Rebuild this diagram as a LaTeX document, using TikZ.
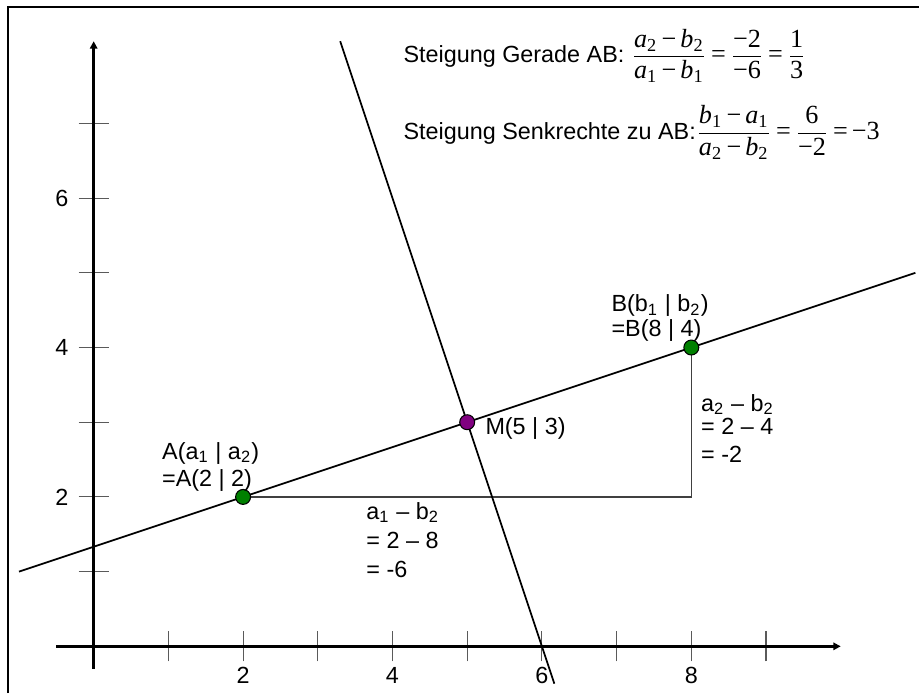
\documentclass[tikz,border=0pt]{standalone}
\usepackage{fontspec}
\usepackage{amsmath}
\setmainfont{Liberation Sans}
\newfontfamily\tnr[Scale=1.12]{Liberation Serif}
\usetikzlibrary{arrows.meta}
\definecolor{ptgreen}{RGB}{0,128,0}
\definecolor{ptpurple}{RGB}{128,0,128}
\definecolor{tickgray}{RGB}{90,90,90}
\newcommand{\mv}[1]{\text{\tnr\itshape #1}}
\newcommand{\mn}[1]{\text{\tnr #1}}
\newcommand{\meq}{\mathrel{\text{\tnr =}}}
\newcommand{\mmin}{\mathbin{\text{\tnr −}}}
\newcommand{\fracspacing}{\thickmuskip=3mu\medmuskip=3mu}
\tikzset{
  axisline/.style={line width=0.9pt, -{Triangle[length=2.8pt,width=2.8pt]}},
  tickline/.style={line width=0.4pt, tickgray},
  mainline/.style={line width=0.65pt, black},
  helpline/.style={line width=0.45pt, black!75},
  ptnode/.style={circle, draw=black, line width=0.4pt, minimum size=0.2cm, inner sep=0pt},
  lbl/.style={inner sep=0pt, anchor=base west},
  framel/.style={line width=0.8pt}
}
\begin{document}
\begin{tikzpicture}[x=1cm,y=1cm,font=\fontsize{8.9}{10.5}\selectfont]
\useasboundingbox (-1.254,-0.625) rectangle (11.048,8.652);
% frame (left and top edges)
\draw[framel] (-1.143,-0.625) -- (-1.143,8.558) -- (11.048,8.558);
% ticks
\foreach \i in {1,...,9} \draw[tickline] (\i,-0.2) -- (\i,0.2);
\foreach \i in {1,...,7} \draw[tickline] (-0.2,\i) -- (0.2,\i);
% axes
\coordinate (xs) at (-0.5,0); \coordinate (xe) at (10,0);
\coordinate (ys) at (0,-0.3); \coordinate (ye) at (0,8.1);
\draw[axisline] (xs) -- (xe);
\draw[axisline] (ys) -- (ye);
% tick labels
\foreach \i in {2,4,6,8} \node[inner sep=0pt, anchor=base] (tx\i) at (\i,-0.504) {\i};
\foreach \i in {2,4,6} \node[inner sep=0pt, anchor=east] (ty\i) at (-0.331,\i) {\i};
% lines
\coordinate (cA) at (2,2); \coordinate (cB) at (8,4); \coordinate (cM) at (5,3);
\coordinate (cC) at (8,2);
\coordinate (L1) at (-1,1); \coordinate (L2) at (11,5);
\coordinate (P1) at (3.3,8.1); \coordinate (P2) at (6.1667,-0.5);
\draw[helpline] (cA) -- (cC) -- (cB);
\draw[mainline] (L1) -- (L2);
\draw[mainline] (P1) -- (P2);
% points
\node[ptnode, fill=ptgreen] (A) at (cA) {};
\node[ptnode, fill=ptgreen] (B) at (cB) {};
\node[ptnode, fill=ptpurple] (M) at (cM) {};
% labels
\node[lbl] (la1) at (0.910,2.507) {A(a\textsubscript{1} | a\textsubscript{2})};
\node[lbl] (la2) at (0.910,2.146) {=A(2 | 2)};
\node[lbl] (lb1) at (6.926,4.476) {B(b\textsubscript{1} | b\textsubscript{2})};
\node[lbl] (lb2) at (6.926,4.141) {=B(8 | 4)};
\node[lbl] (lm) at (5.238,2.842) {M(5 | 3)};
\node[lbl] (dx1) at (3.645,1.704) {a\textsubscript{1} – b\textsubscript{2}};
\node[lbl] (dx2) at (3.645,1.316) {= 2 – 8};
\node[lbl] (dx3) at (3.645,0.928) {= -6};
\node[lbl] (dy1) at (8.126,3.150) {a\textsubscript{2} – b\textsubscript{2}};
\node[lbl] (dy2) at (8.126,2.842) {= 2 – 4};
\node[lbl] (dy3) at (8.126,2.467) {= -2};
% slope texts
\node[lbl] (s1) at (4.141,7.812) {Steigung Gerade AB: $\fracspacing\dfrac{\mv{a}_{\mn{2}}\mmin\mv{b}_{\mn{2}}}{\mv{a}_{\mn{1}}\mmin\mv{b}_{\mn{1}}}\meq\dfrac{\mn{−2}}{\mn{−6}}\meq\dfrac{\mn{1}}{\mn{3}}$};
\node[lbl] (s2) at (4.141,6.789) {Steigung Senkrechte zu AB:$\fracspacing\dfrac{\mv{b}_{\mn{1}}\mmin\mv{a}_{\mn{1}}}{\mv{a}_{\mn{2}}\mmin\mv{b}_{\mn{2}}}\meq\dfrac{\mn{6}}{\mn{−2}}\meq\mn{−3}$};
\end{tikzpicture}
\end{document}
